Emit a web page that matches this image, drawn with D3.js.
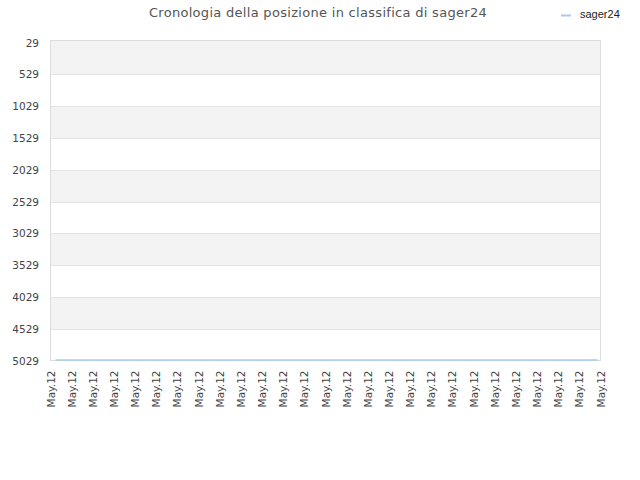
<!DOCTYPE html>
<html>
<head>
<meta charset="utf-8">
<script src="https://cdn.jsdelivr.net/npm/d3@7"></script>
<style>
  body { margin: 0; background: #fff; }
  svg { display: block; }
</style>
</head>
<body>
<div id="chart"></div>
<script>
// chart data
var title = "Cronologia della posizione in classifica di sager24";
var seriesName = "sager24";
var dates = ["May.12","May.12","May.12","May.12","May.12","May.12","May.12","May.12","May.12",
             "May.12","May.12","May.12","May.12","May.12","May.12","May.12","May.12","May.12",
             "May.12","May.12","May.12","May.12","May.12","May.12","May.12","May.12","May.12"];
var ranks = [5020,5020,5020,5020,5020,5020,5020,5020,5020,
             5020,5020,5020,5020,5020,5020,5020,5020,5020,
             5020,5020,5020,5020,5020,5020,5020,5020,5020];
var yTicks = [29, 529, 1029, 1529, 2029, 2529, 3029, 3529, 4029, 4529, 5029];

var width = 640,
    height = 480,
    plotLeft = 50.5,
    plotRight = 600.5,
    plotTop = 40.5,
    plotBottom = 360.5;

var svg = d3.select("#chart").append("svg")
    .attr("width", width)
    .attr("height", height);

// y goes downwards: best position on top
var y = d3.scaleLinear()
    .domain([29, 5029])
    .range([42.5, plotBottom]);

// x is one slot per sample
var idx = dates.map((d, i) => i);
var x = d3.scalePoint()
    .domain(idx)
    .range([plotLeft, plotRight]);

// the line itself sits a bit inside the frame
var xLine = d3.scalePoint()
    .domain(idx)
    .range([plotLeft + 5, plotRight - 3]);

// plot background
svg.append("rect")
    .attr("x", plotLeft)
    .attr("y", plotTop)
    .attr("width", plotRight - plotLeft)
    .attr("height", plotBottom - plotTop)
    .attr("fill", "#fff");

// alternating bands, first one starts at the frame
var bandTop = i => i == 0 ? plotTop : Math.round(y(yTicks[i])) + 0.5;
for (var i = 0; i < yTicks.length - 1; i++) {
  if (i % 2 == 0) {
    svg.append("rect")
        .attr("x", plotLeft)
        .attr("y", bandTop(i))
        .attr("width", plotRight - plotLeft)
        .attr("height", bandTop(i + 1) - bandTop(i))
        .attr("fill", "#f3f3f3");
  }
}

// horizontal grid
svg.append("g")
    .selectAll("line")
    .data(yTicks.slice(1, -1))
    .join("line")
    .attr("x1", plotLeft)
    .attr("x2", plotRight)
    .attr("y1", d => Math.round(y(d)) + 0.5)
    .attr("y2", d => Math.round(y(d)) + 0.5)
    .attr("stroke", "#e3e3e3");

// frame
svg.append("rect")
    .attr("x", plotLeft)
    .attr("y", plotTop)
    .attr("width", plotRight - plotLeft)
    .attr("height", plotBottom - plotTop)
    .attr("fill", "none")
    .attr("stroke", "#dcdcdc");

// y axis labels
svg.append("g")
    .selectAll("text")
    .data(yTicks)
    .join("text")
    .attr("x", 39)
    .attr("y", d => y(d) + 4)
    .attr("text-anchor", "end")
    .attr("font-family", "DejaVu Sans")
    .attr("font-size", 10.5)
    .attr("fill", "#444")
    .text(d => d);

// x axis labels, rotated
svg.append("g")
    .selectAll("text")
    .data(idx)
    .join("text")
    .attr("transform", d => "translate(" + (x(d) + 4) + "," + (plotBottom + 10) + ") rotate(-90)")
    .attr("text-anchor", "end")
    .attr("font-family", "DejaVu Sans")
    .attr("font-size", 10.5)
    .attr("fill", "#444")
    .text(d => dates[d]);

// the series line
var line = d3.line()
    .x((d, i) => xLine(i))
    .y(d => y(d));

svg.append("path")
    .datum(ranks)
    .attr("d", line)
    .attr("fill", "none")
    .attr("stroke", "#a6cbef")
    .attr("stroke-width", 1.5);

// title
svg.append("text")
    .attr("x", 318)
    .attr("y", 17)
    .attr("text-anchor", "middle")
    .attr("font-family", "DejaVu Sans")
    .attr("font-size", 13)
    .attr("letter-spacing", 0.3)
    .attr("fill", "#555")
    .text(title);

// legend
svg.append("line")
    .attr("x1", 561)
    .attr("x2", 571)
    .attr("y1", 15.5)
    .attr("y2", 15.5)
    .attr("stroke", "#a6cbef")
    .attr("stroke-width", 2);

svg.append("text")
    .attr("x", 580)
    .attr("y", 18)
    .attr("font-family", "Liberation Sans")
    .attr("font-size", 11)
    .attr("fill", "#222")
    .text(seriesName);
</script>
</body>
</html>
